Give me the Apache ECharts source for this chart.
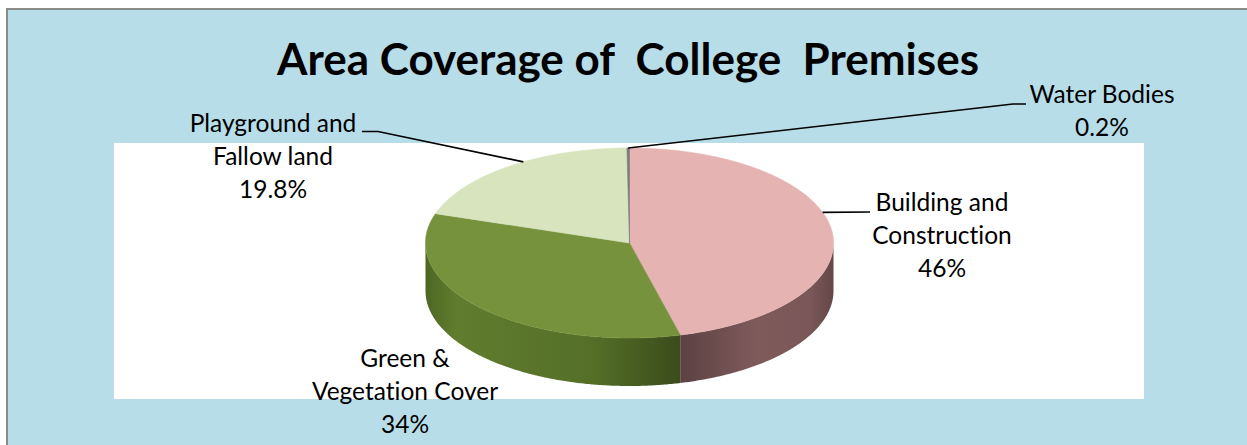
<!DOCTYPE html>
<html>
<head>
<meta charset="utf-8">
<script src="https://cdn.jsdelivr.net/npm/echarts@6/dist/echarts.min.js"></script>
<style>
html,body{margin:0;padding:0;background:#ffffff;}
#chart{width:1247px;height:445px;}
#chart text{font-variant-ligatures:none;font-feature-settings:"liga" 0;}
</style>
</head>
<body>
<div id="chart"></div>
<script>
// ---- data ----
const titleText = 'Area Coverage of  College  Premises';
const categories = ['Building and\nConstruction', 'Green &\nVegetation Cover', 'Playground and\nFallow land', 'Water Bodies'];
const values = [46, 34, 19.8, 0.2];

// ---- styles / layout (not data) ----
const topColors = ['#e5b3b2', '#76923c', '#d7e4bd', '#7a7a7a'];
const sideStops = [
  [[0, '#5c4243'], [0.5, '#7f5a5b'], [0.85, '#7a5758'], [1, '#654748']],
  [[0, '#4d6722'], [0.12, '#607d2e'], [0.65, '#556f28'], [1, '#3a4c1b']],
  [[0, '#9fb07a'], [1, '#9fb07a']],
  [[0, '#555555'], [1, '#555555']]
];
const G = { cx: 629.5, cy: 243, rx: 204, ry: 95, depth: 48 };
const LBL = {
  pos: [[942, 234], [405, 390], [273, 155], [1102, 110]],
  anchorShift: [-11.6, 0, 5, 0],
  leader: [
    [[870, 212]],
    null,
    [[378, 131.5], [362, 131.5]],
    [[1013, 104], [1026, 104]]
  ]
};

const total = values.reduce((a, b) => a + b, 0);

function P(deg, dy) {
  const r = deg * Math.PI / 180;
  return [G.cx + G.rx * Math.sin(r), G.cy - G.ry * Math.cos(r) + (dy || 0)];
}

function renderItem(params, api) {
  const i = params.dataIndex;
  const v = api.value(0);
  let cum = 0;
  for (let k = 0; k < i; k++) cum += values[k];
  const a0 = cum / total * 360;
  const a1 = (cum + v) / total * 360;
  const children = [];

  // front side wall
  const s0 = Math.max(a0, 90), s1 = Math.min(a1, 270);
  if (s1 > s0) {
    const n = Math.max(2, Math.ceil((s1 - s0) / 0.5));
    const pts = [];
    for (let k = 0; k <= n; k++) pts.push(P(s0 + (s1 - s0) * k / n));
    for (let k = n; k >= 0; k--) pts.push(P(s0 + (s1 - s0) * k / n, G.depth));
    const xa = P(s1)[0], xb = P(s0)[0];
    children.push({
      type: 'polygon',
      shape: { points: pts },
      style: {
        fill: {
          type: 'linear', global: true,
          x: Math.min(xa, xb), y: 0, x2: Math.max(xa, xb), y2: 0,
          colorStops: sideStops[i].map(s => ({ offset: s[0], color: s[1] }))
        },
        stroke: null
      }
    });
  }

  // top face
  const n2 = Math.max(2, Math.ceil((a1 - a0) / 0.5));
  const tp = [[G.cx, G.cy]];
  for (let k = 0; k <= n2; k++) tp.push(P(a0 + (a1 - a0) * k / n2));
  children.push({
    type: 'polygon',
    shape: { points: tp },
    style: { fill: topColors[i], stroke: topColors[i], lineWidth: 0.6 }
  });

  // leader line
  if (LBL.leader[i]) {
    const anchor = P((a0 + a1) / 2 + LBL.anchorShift[i]);
    children.push({
      type: 'polyline',
      shape: { points: [anchor].concat(LBL.leader[i]) },
      style: { stroke: '#000', lineWidth: 1.6, fill: null }
    });
  }

  // label
  children.push({
    type: 'text',
    z2: 10,
    style: {
      text: categories[i] + '\n' + v + '%',
      x: LBL.pos[i][0], y: LBL.pos[i][1],
      align: 'center', verticalAlign: 'middle',
      fontFamily: 'Lato', fontSize: 24.5, lineHeight: 33,
      fill: '#000'
    }
  });
  return { type: 'group', children: children };
}

const chart = echarts.init(document.getElementById('chart'), null, { renderer: 'svg' });
chart.setOption({
  animation: false,
  backgroundColor: '#ffffff',
  title: {
    text: titleText,
    left: 628,
    textAlign: 'center',
    top: 36,
    padding: 0,
    textStyle: { fontFamily: 'Lato', fontWeight: 'bold', fontSize: 44, color: '#000', lineHeight: 44 }
  },
  graphic: [
    { type: 'rect', z: -10, silent: true, shape: { x: 7, y: 9, width: 1260, height: 460 },
      style: { fill: '#b7dde8', stroke: '#8a8a8a', lineWidth: 2 } },
    { type: 'rect', z: -9, silent: true, shape: { x: 114, y: 143, width: 1030, height: 256 },
      style: { fill: '#ffffff' } }
  ],
  series: [{
    type: 'custom',
    coordinateSystem: 'none',
    renderItem: renderItem,
    data: values.map((v, i) => ({ name: categories[i], value: [v] }))
  }]
});
</script>
</body>
</html>
